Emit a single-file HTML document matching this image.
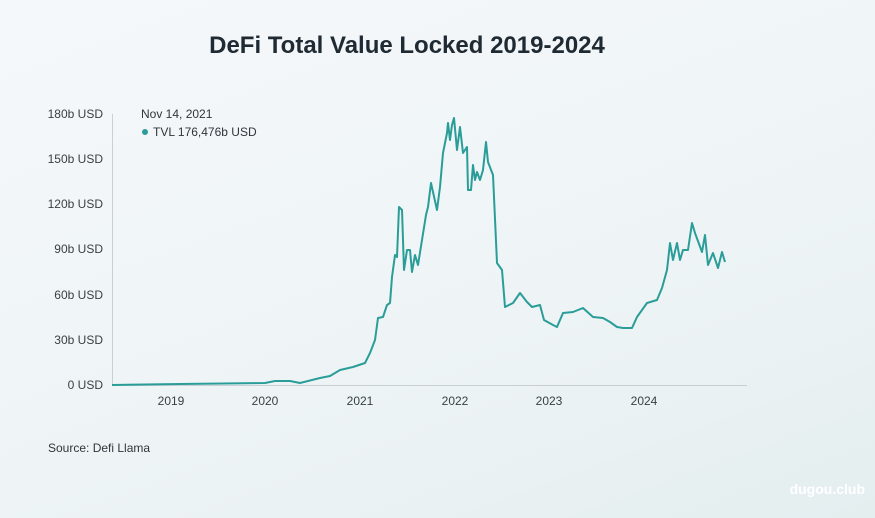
<!DOCTYPE html>
<html><head><meta charset="utf-8"><style>
html,body{margin:0;padding:0}
body{width:875px;height:518px;overflow:hidden;background:linear-gradient(160deg,#f5f8fa 0%,#eef4f6 60%,#e4eeef 100%);font-family:"Liberation Sans",sans-serif}
</style></head><body>
<svg width="875" height="518" viewBox="0 0 875 518" xmlns="http://www.w3.org/2000/svg" style="position:absolute;left:0;top:0">
<text x="407" y="53" text-anchor="middle" font-family="Liberation Sans, sans-serif" font-weight="bold" font-size="24" fill="#1f2a33">DeFi Total Value Locked 2019-2024</text>
<g font-family="Liberation Sans, sans-serif" font-size="12" fill="#3a3f45" text-anchor="end">
<text x="103" y="118">180b USD</text>
<text x="103" y="163">150b USD</text>
<text x="103" y="208">120b USD</text>
<text x="103" y="253">90b USD</text>
<text x="103" y="299">60b USD</text>
<text x="103" y="344">30b USD</text>
<text x="103" y="389">0 USD</text>
</g>
<g font-family="Liberation Sans, sans-serif" font-size="12" fill="#3a3f45" text-anchor="middle">
<text x="171" y="405">2019</text>
<text x="265" y="405">2020</text>
<text x="360" y="405">2021</text>
<text x="455" y="405">2022</text>
<text x="549" y="405">2023</text>
<text x="644" y="405">2024</text>
</g>
<line x1="112.5" y1="114" x2="112.5" y2="385" stroke="#c9d0d4" stroke-width="1"/>
<line x1="112" y1="385.5" x2="747" y2="385.5" stroke="#c9d0d4" stroke-width="1"/>
<text x="141" y="118" font-family="Liberation Sans, sans-serif" font-size="12" fill="#2f353b">Nov 14, 2021</text>
<circle cx="145" cy="132" r="3" fill="#2a9d98"/>
<text x="153" y="136" font-family="Liberation Sans, sans-serif" font-size="12" fill="#2f353b">TVL 176,476b USD</text>
<polyline fill="none" stroke="#2a9d98" stroke-width="2" stroke-linejoin="round" points="
112,385 180,384 265,383 275,381 290,381 300,383 320,378 330,376 340,370 353,367 365,363 370,353 375,340 378,318 383,317 387,305 390,303 392,277 395,255 397,257 399,207 402,210 404,270 407,250 410,250 412,272 415,255 418,265 422,240 426,215 428,207 431,183 433,192 437,210 440,187 443,153 447,133 448,123 450,140 452,125 454,118 457,150 460,127 463,153 467,147 468,190 471,190 473,165 475,180 477,172 480,180 483,170 486,142 488,162 493,175 497,263 502,270 505,307 513,303 520,293 527,302 532,307 540,305 544,320 553,325 557,327 563,313 573,312 583,308 593,317 603,318 610,322 617,327 623,328 632,328 637,317 647,303 657,300 662,288 667,270 670,243 673,260 677,243 680,260 683,250 688,250 692,223 695,233 702,252 705,235 708,265 713,253 718,268 722,252 725,262"/>
<text x="48" y="452" font-family="Liberation Sans, sans-serif" font-size="12" fill="#2f353b">Source: Defi Llama</text>
<text x="865" y="494" text-anchor="end" font-family="Liberation Sans, sans-serif" font-weight="bold" font-size="14" fill="#ffffff">dugou.club</text>
</svg>
</body></html>
